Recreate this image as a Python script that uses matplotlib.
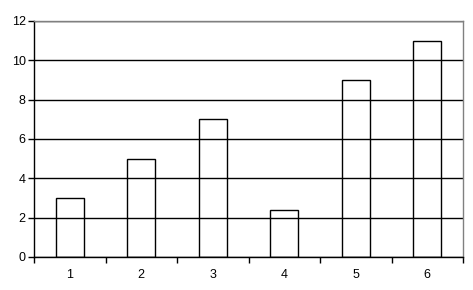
import numpy as np
import matplotlib
matplotlib.use("Agg")
import matplotlib.pyplot as plt

plt.rcParams['font.family'] = ['Liberation Sans', 'DejaVu Sans']

categories = ['1', '2', '3', '4', '5', '6']
values = [3, 5, 7, 2.4, 9, 11]

fig = plt.figure(figsize=(4.73, 2.90), dpi=100)
ax = fig.add_axes([0.0719, 0.1138, 0.9070, 0.8138])

x = np.arange(len(categories))
ax.bar(x, values, width=0.39, facecolor='none', edgecolor='black', linewidth=1, zorder=3)

ax.set_xlim(-0.5, len(categories) - 0.5)
ax.set_ylim(0, 12)
ax.set_yticks(np.arange(0, 13, 2))
ax.yaxis.grid(True, color='black', linewidth=1, zorder=1)
ax.set_axisbelow(True)

ax.set_xticks(x)
ax.set_xticklabels(categories)
ax.set_xticks(np.arange(-0.5, len(categories), 1), minor=True)
ax.tick_params(axis='x', which='major', length=0, pad=9, labelsize=9)
ax.tick_params(axis='x', which='minor', length=4, width=1, direction='out')
ax.tick_params(axis='y', length=4, width=1, direction='out', pad=2, labelsize=9)

ax.spines['top'].set_color('#808080')
ax.spines['right'].set_color('#808080')
ax.spines['left'].set_color('black')
ax.spines['bottom'].set_color('black')
for s in ax.spines.values():
    s.set_linewidth(1)

fig.savefig('out.png', dpi=100)
